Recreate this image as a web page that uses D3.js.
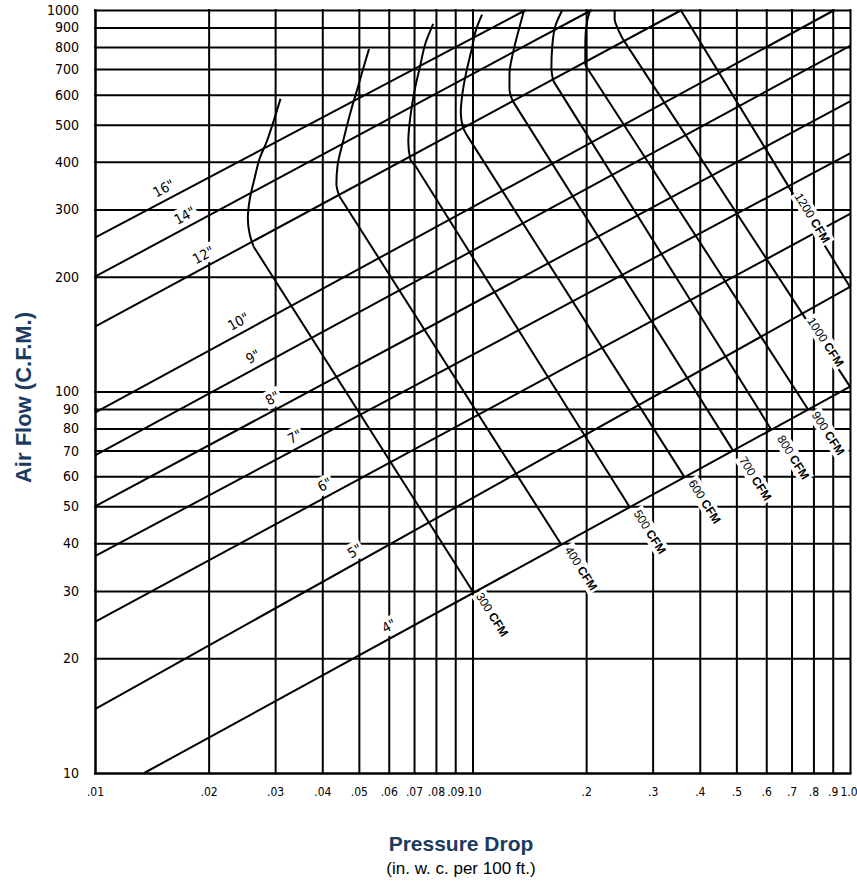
<!DOCTYPE html>
<html>
<head>
<meta charset="utf-8">
<script src="https://cdn.jsdelivr.net/npm/d3@7"></script>
<style>
body { margin:0; background:#fff; }
svg { display:block; }
</style>
</head>
<body>
<svg id="chart"></svg>
<script>
var size = {width:857, height:881}
var plot = {left:95, right:850, top:10, bottom:773}

// grid values
var pressureTicks = [.01,.02,.03,.04,.05,.06,.07,.08,.09,.1,.2,.3,.4,.5,.6,.7,.8,.9,1]
var pressureLabels = [".01",".02",".03",".04",".05",".06",".07",".08",".09",".10",".2",".3",".4",".5",".6",".7",".8",".9","1.0"]
var flowTicks = [10,20,30,40,50,60,70,80,90,100,200,300,400,500,600,700,800,900,1000]

// duct size lines, [pressure, cfm] at each end
var ductNames = ['16"','14"','12"','10"','9"','8"','7"','6"','5"','4"']
var ductStart = [[.01,253],[.01,200],[.01,148],[.01,88],[.01,68],[.01,50],[.01,37],[.01,24.9],[.01,14.7],[.0135,10]]
var ductEnd = [[.1385,1000],[.207,1000],[.358,1000],[.91,1000],[1,805],[1,576],[1,421],[1,292],[1,188],[1,103]]
var ductLabelAt = [.0152,.01728,.01937,.024,.0262,.02954,.0338,.0406,.0487,.0601]

// velocity lines, [pressure, cfm] from top down
var cfmNames = ["300","400","500","600","700","800","900","1000","1200"]
var cfm300 = [[.031,585],[.0299,521],[.0285,452],[.0273,408],[.0265,364],[.0257,319],[.0254,285],[.0257,258],[.0263,240],[.1,30]]
var cfm400 = [[.0532,790],[.0516,714],[.0497,627],[.0475,539],[.0454,452],[.0439,391],[.0436,350],[.0444,325],[.171,40]]
var cfm500 = [[.0787,920],[.0752,823],[.0725,706],[.0705,627],[.0687,539],[.0676,452],[.0684,407],[.0705,391],[.26,50]]
var cfm600 = [[.106,973],[.1024,894],[.0995,789],[.096,678],[.094,602],[.0931,539],[.0944,493],[.097,467],[.363,60]]
var cfm700 = [[.137,1000],[.133,897],[.128,772],[.1253,678],[.1253,620],[.128,576],[.49,70]]
var cfm800 = [[.173,1000],[.166,912],[.1627,806],[.1618,706],[.1637,652],[.616,80]]
var cfm900 = [[.205,1000],[.201,929],[.199,823],[.199,722],[.201,706],[.773,90]]
var cfm1000 = [[.238,1000],[.238,946],[.2426,894],[.25,840],[1,103]]
var cfm1200 = [[.356,1000],[1,188]]
var cfmLines = [cfm300,cfm400,cfm500,cfm600,cfm700,cfm800,cfm900,cfm1000,cfm1200]
var cfmLabelAt = [.1105,.190,.289,.404,.55,.693,.858,.844,.779]

var navy = "#1c3b60"
var narrow = "'Liberation Sans Narrow','Arial Narrow','DejaVu Sans Condensed',sans-serif"

var x = d3.scaleLog().domain([0.01,1]).range([plot.left,plot.right])
var y = d3.scaleLog().domain([10,1000]).range([plot.bottom,plot.top])

var svg = d3.select("#chart")
            .attr("width",size.width)
            .attr("height",size.height)

// log-space point on the line through a and b
var flowAt = function(a,b,p)
{
    var t = (Math.log(p)-Math.log(a[0]))/(Math.log(b[0])-Math.log(a[0]))
    return Math.exp(Math.log(a[1])+t*(Math.log(b[1])-Math.log(a[1])))
}
var angleOf = function(a,b)
{
    return Math.atan2(y(b[1])-y(a[1]), x(b[0])-x(a[0]))*180/Math.PI
}

// grid lines and tick labels
var xAxis = d3.axisBottom(x)
              .tickValues(pressureTicks)
              .tickFormat(function(d){return pressureLabels[pressureTicks.indexOf(d)]})
              .tickSize(-(plot.bottom-plot.top))
              .tickSizeOuter(0)
              .tickPadding(14)
var yAxis = d3.axisLeft(y)
              .tickValues(flowTicks)
              .tickFormat(d3.format("d"))
              .tickSize(-(plot.right-plot.left))
              .tickSizeOuter(0)
              .tickPadding(16)

var gx = svg.append("g")
   .attr("transform","translate(0,"+plot.bottom+")")
   .call(xAxis)
var gy = svg.append("g")
   .attr("transform","translate("+plot.left+",0)")
   .call(yAxis)

svg.selectAll(".tick line, .domain")
   .attr("stroke","#000")
   .attr("stroke-width",2)
   .attr("stroke-linecap","square")
gx.selectAll("text").attr("font-family",narrow).attr("font-size",12).attr("fill","#000")
gx.selectAll("text").filter(function(d){return d == 1}).attr("dx",-1.5)
gy.selectAll("text").attr("font-family",narrow).attr("font-size",14).attr("fill","#000")

// duct lines
var lineGen = d3.line()
                .x(function(d){return x(d[0])})
                .y(function(d){return y(d[1])})
var curveGen = d3.line()
                 .x(function(d){return x(d[0])})
                 .y(function(d){return y(d[1])})
                 .curve(d3.curveMonotoneY)

var curves = svg.append("g")
                .attr("fill","none")
                .attr("stroke","#000")
                .attr("stroke-width",2)

ductNames.forEach(function(name,i)
{
    curves.append("path").attr("d",lineGen([ductStart[i],ductEnd[i]]))
})

// velocity lines: bent top part, then straight run down to the 4" line
cfmLines.forEach(function(pts)
{
    var n = pts.length
    if(n > 2)
    {
        curves.append("path").attr("d",curveGen(pts.slice(0,n-1)))
    }
    curves.append("path").attr("d",lineGen(pts.slice(n-2)))
})

var labels = svg.append("g")

var addLabel = function(px,py,angle,build,pad)
{
    var g = labels.append("g")
                  .attr("transform","translate("+px+","+py+") rotate("+angle+")")
    var t = g.append("text")
             .attr("text-anchor","middle")
             .attr("dy","0.35em")
    build(t)
    var b = t.node().getBBox()
    g.insert("rect","text")
     .attr("x",b.x-pad).attr("y",b.y-pad+1)
     .attr("width",b.width+2*pad).attr("height",b.height+2*pad-2)
     .attr("fill","#fff")
}

ductNames.forEach(function(name,i)
{
    var p = ductLabelAt[i]
    var q = flowAt(ductStart[i],ductEnd[i],p)
    addLabel(x(p), y(q)-13, angleOf(ductStart[i],ductEnd[i]), function(t)
    {
        t.attr("font-family",narrow).attr("font-size",14).text(name)
    }, 2)
})

// cfm labels sit with their baseline on the line, so nudge them to its upper side
cfmNames.forEach(function(name,i)
{
    var pts = cfmLines[i]
    var a = pts[pts.length-2], b = pts[pts.length-1]
    var p = cfmLabelAt[i]
    var q = flowAt(a,b,p)
    var ang = angleOf(a,b)
    var r = ang*Math.PI/180
    addLabel(x(p)+4*Math.sin(r), y(q)-4*Math.cos(r), ang, function(t)
    {
        t.attr("font-family","'Liberation Sans',Arial,sans-serif").attr("font-size",12)
        t.append("tspan").text(name+" ")
        t.append("tspan").attr("font-weight","bold").text("CFM")
    }, 2)
})

// axis titles
svg.append("text")
   .attr("transform","translate(31,"+((plot.top+plot.bottom)/2+6)+") rotate(-90)")
   .attr("text-anchor","middle")
   .attr("font-family","'Liberation Sans',Arial,sans-serif")
   .attr("font-weight","bold")
   .attr("font-size",22)
   .attr("fill",navy)
   .text("Air Flow (C.F.M.)")

svg.append("text")
   .attr("x",461).attr("y",851)
   .attr("text-anchor","middle")
   .attr("font-family","'Liberation Sans',Arial,sans-serif")
   .attr("font-weight","bold")
   .attr("font-size",21)
   .attr("fill",navy)
   .text("Pressure Drop")

svg.append("text")
   .attr("x",461).attr("y",874)
   .attr("text-anchor","middle")
   .attr("font-family","'Liberation Sans',Arial,sans-serif")
   .attr("font-size",17)
   .attr("fill","#000")
   .text("(in. w. c. per 100 ft.)")
</script>
</body>
</html>
